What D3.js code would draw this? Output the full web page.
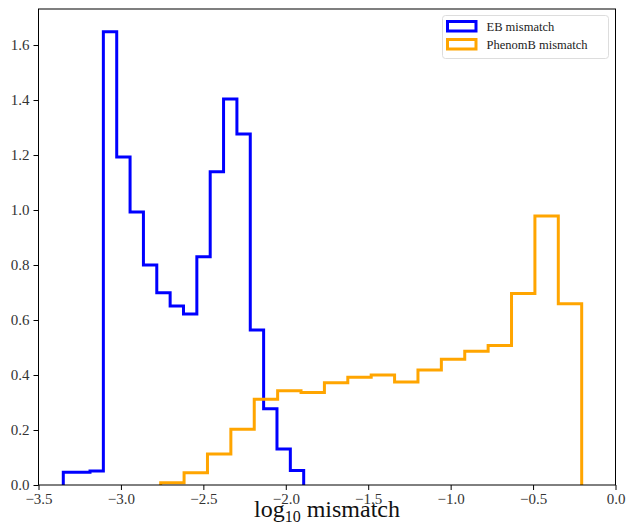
<!DOCTYPE html>
<html><head><meta charset="utf-8">
<script src="https://cdn.jsdelivr.net/npm/d3@7"></script>
<style>body{margin:0;background:#fff}svg{display:block}</style>
</head><body><svg id="c" width="627" height="528"></svg>
<script>
const ebRange = [-3.3496, -1.8914];
const ebValues = [0.046, 0.046, 0.051, 1.648, 1.193, 0.993, 0.800, 0.699, 0.651, 0.622, 0.830, 1.139, 1.404, 1.276, 0.564, 0.277, 0.131, 0.053];
const phRange = [-2.7588, -0.2051];
const phValues = [0.008, 0.045, 0.113, 0.203, 0.312, 0.343, 0.336, 0.372, 0.392, 0.400, 0.375, 0.418, 0.457, 0.486, 0.507, 0.696, 0.978, 0.659];
const xTicks = [-3.5, -3.0, -2.5, -2.0, -1.5, -1.0, -0.5, 0.0];
const yTicks = [0.0, 0.2, 0.4, 0.6, 0.8, 1.0, 1.2, 1.4, 1.6];
const seriesNames = ["EB mismatch", "PhenomB mismatch"];
const colors = ["#0000ff", "#ffa500"];

const svg = d3.select("#c");
const L = 38.5, R = 615.5, T = 9, B = 485;
const x = d3.scaleLinear().domain([-3.5, 0]).range([L, R]);
const y = d3.scaleLinear().domain([0, 1.731]).range([B, T]);
const font = "Liberation Serif, DejaVu Serif, serif";

function stepPath(range, vals) {
  const n = vals.length, w = (range[1] - range[0]) / n;
  const pts = [[range[0], 0]];
  vals.forEach((v, i) => { pts.push([range[0] + i * w, v]); pts.push([range[0] + (i + 1) * w, v]); });
  pts.push([range[1], 0]);
  return d3.line().x(d => x(d[0])).y(d => y(d[1]))(pts);
}

svg.append("path").attr("d", stepPath(ebRange, ebValues)).attr("fill", "none")
  .attr("stroke", colors[0]).attr("stroke-width", 3).attr("stroke-linejoin", "miter");
svg.append("path").attr("d", stepPath(phRange, phValues)).attr("fill", "none")
  .attr("stroke", colors[1]).attr("stroke-width", 3).attr("stroke-linejoin", "miter");

const xa = svg.append("g").attr("transform", `translate(0,${B})`)
  .call(d3.axisBottom(x).tickValues(xTicks).tickFormat(d3.format(".1f")).tickSize(5).tickPadding(3));
const ya = svg.append("g").attr("transform", `translate(${L},0)`)
  .call(d3.axisLeft(y).tickValues(yTicks).tickFormat(d3.format(".1f")).tickSize(5).tickPadding(4));
[xa, ya].forEach(a => {
  a.attr("font-family", font).attr("font-size", 15);
  a.select(".domain").remove();
  a.selectAll("text").attr("fill", "#333");
  a.selectAll("line").attr("stroke", "#000");
});
svg.append("rect").attr("x", L).attr("y", T).attr("width", R - L).attr("height", B - T)
  .attr("fill", "none").attr("stroke", "#000").attr("stroke-width", 1);

const lab = svg.append("text").attr("x", 327).attr("y", 517).attr("text-anchor", "middle")
  .attr("font-family", font).attr("font-size", 24).attr("fill", "#111");
lab.append("tspan").text("log");
lab.append("tspan").attr("font-size", 16).attr("dy", 5).text("10");
lab.append("tspan").attr("dy", -5).text(" mismatch");

const lg = svg.append("g");
lg.append("rect").attr("x", 442.5).attr("y", 15.5).attr("width", 166).attr("height", 43)
  .attr("rx", 3).attr("fill", "#fff").attr("stroke", "#ddd").attr("stroke-width", 1);
seriesNames.forEach((s, i) => {
  const yy = 21.5 + i * 18;
  lg.append("rect").attr("x", 447.5).attr("y", yy).attr("width", 28.5).attr("height", 9.5)
    .attr("fill", "none").attr("stroke", colors[i]).attr("stroke-width", 3);
  lg.append("text").attr("x", 486.5).attr("y", yy + 9.5).attr("font-family", font)
    .attr("font-size", 12.5).attr("fill", "#222").text(s);
});
</script></body></html>
